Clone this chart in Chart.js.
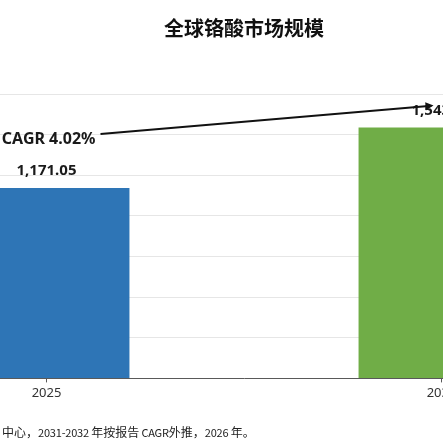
<!DOCTYPE html>
<html lang="zh">
<head>
<meta charset="utf-8">
<title>全球铬酸市场规模</title>
<script src="https://cdn.jsdelivr.net/npm/chart.js@4.4.1/dist/chart.umd.min.js"></script>
<style>
    html, body { margin: 0; padding: 0; background: #fff; overflow: hidden; width: 443px; height: 444px; }
    #wrap { position: absolute; left: -171px; top: 0; width: 830px; height: 444px; }
    #note {
        position: absolute; left: 2px; top: 423px; white-space: nowrap;
        font: 12px "Noto Sans CJK SC", sans-serif; color: #222; line-height: 18px;
    }
    #note .l { font-size: 11px; letter-spacing: -0.2px; }
</style>
</head>
<body>
<div id="wrap"><canvas id="chart"></canvas></div>
<div id="note">中心，<span class="l">2031-2032 </span>年按报告<span class="l"> CAGR</span>外推，<span class="l">2026 </span>年。</div>
<script>
(function () {
    'use strict';

    // chart data
    var years = ['2025', '2032'];
    var marketSize = [1171.05, 1543.10];
    var barColors = ['#2e75b6', '#70ad47'];
    var cagrLabel = 'CAGR 4.02%';
    var yMin = 0, yMax = 1750, yStep = 250;

    var FONT = '"Noto Sans", "Noto Sans CJK SC", sans-serif';

    function fmt(v) {
        return v.toLocaleString('en-US', { minimumFractionDigits: 2, maximumFractionDigits: 2 });
    }

    // value labels above bars
    var barLabels = {
        id: 'barLabels',
        afterDatasetsDraw: function (chart) {
            var ctx = chart.ctx;
            var meta = chart.getDatasetMeta(0);
            ctx.save();
            ctx.font = 'bold 15px ' + FONT;
            ctx.fillStyle = '#1a1a1a';
            ctx.textAlign = 'center';
            ctx.textBaseline = 'middle';
            meta.data.forEach(function (bar, i) {
                ctx.fillText(fmt(marketSize[i]), bar.x, bar.y - 17);
            });
            ctx.restore();
        }
    };

    // CAGR arrow between the two bar labels
    var cagrArrow = {
        id: 'cagrArrow',
        afterDatasetsDraw: function (chart) {
            var ctx = chart.ctx;
            var bars = chart.getDatasetMeta(0).data;
            if (bars.length < 2) return;
            var a = bars[0], b = bars[bars.length - 1];
            var x1 = a.x + 54, y1 = a.y - 54;
            var x2 = b.x - 8, y2 = b.y - 22;
            var ang = Math.atan2(y2 - y1, x2 - x1);
            ctx.save();
            ctx.strokeStyle = '#111';
            ctx.fillStyle = '#111';
            ctx.lineWidth = 2;
            ctx.beginPath();
            ctx.moveTo(x1, y1);
            ctx.lineTo(x2 - 5 * Math.cos(ang), y2 - 5 * Math.sin(ang));
            ctx.stroke();
            ctx.beginPath();
            ctx.moveTo(x2, y2);
            ctx.lineTo(x2 - 8 * Math.cos(ang) + 4 * Math.sin(ang), y2 - 8 * Math.sin(ang) - 4 * Math.cos(ang));
            ctx.lineTo(x2 - 8 * Math.cos(ang) - 4 * Math.sin(ang), y2 - 8 * Math.sin(ang) + 4 * Math.cos(ang));
            ctx.closePath();
            ctx.fill();
            ctx.font = 'bold 16px ' + FONT;
            ctx.textAlign = 'right';
            ctx.textBaseline = 'middle';
            ctx.fillStyle = '#1a1a1a';
            ctx.fillText(cagrLabel, x1 - 5, y1 + 5);
            ctx.restore();
        }
    };

    new Chart(document.getElementById('chart').getContext('2d'), {
        type: 'bar',
        data: {
            labels: years,
            datasets: [{
                label: '全球铬酸市场规模',
                data: marketSize,
                backgroundColor: barColors,
                borderWidth: 0,
                barPercentage: 0.7,
                categoryPercentage: 0.6
            }]
        },
        options: {
            responsive: true,
            maintainAspectRatio: false,
            animation: false,
            layout: { padding: { left: 20, right: 20, top: 0, bottom: 40 } },
            plugins: {
                legend: { display: false },
                tooltip: { enabled: false },
                title: {
                    display: true,
                    text: '全球铬酸市场规模',
                    color: '#111',
                    font: { family: '"Noto Sans CJK SC", sans-serif', size: 20, weight: 'bold' },
                    padding: { top: 16, bottom: 54 }
                }
            },
            scales: {
                x: {
                    grid: { display: true, drawOnChartArea: false, drawTicks: true, tickLength: 4, offset: false, color: '#595959' },
                    border: { display: true, color: '#595959', width: 1 },
                    ticks: { color: '#333', padding: 3, font: { family: FONT, size: 13 } }
                },
                y: {
                    min: yMin,
                    max: yMax,
                    ticks: { display: false, stepSize: yStep },
                    grid: { color: '#e6e6e6', drawTicks: false },
                    border: { display: false }
                }
            }
        },
        plugins: [barLabels, cagrArrow]
    });
})();
</script>
</body>
</html>
